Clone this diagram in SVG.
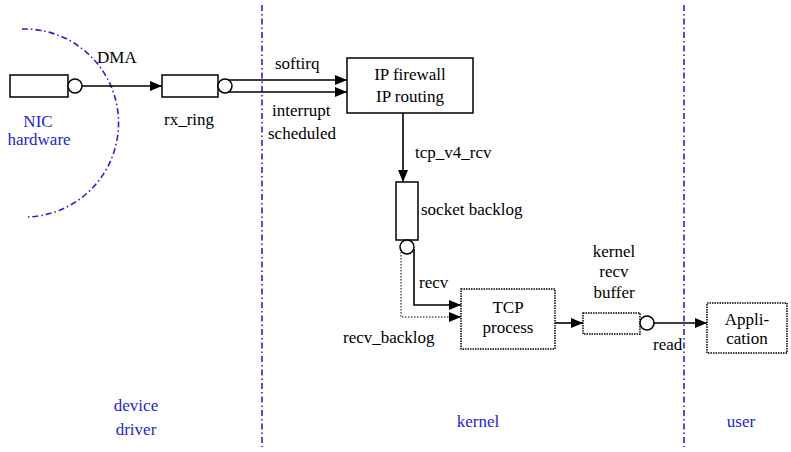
<svg xmlns="http://www.w3.org/2000/svg" width="791" height="452" viewBox="0 0 791 452" font-family="'Liberation Serif', 'DejaVu Serif', serif">
<defs>
<marker id="arr" markerUnits="userSpaceOnUse" markerWidth="12" markerHeight="10" refX="12" refY="5" orient="auto">
<path d="M0,0 L12,5 L0,10 z" fill="#000"/>
</marker>
<style>
text{font-family:"Liberation Serif","DejaVu Serif",serif;font-size:17px;fill:#000}
.blue{fill:#2424d0}
.mid{text-anchor:middle}
.box{fill:#fff;stroke:#000;stroke-width:1.5}
.dot{fill:#fff;stroke:#000;stroke-width:1.5;stroke-dasharray:1.5 1}
.q{fill:#fff;stroke:#000;stroke-width:1.5}
.conn{fill:none;stroke:#000;stroke-width:1.6}
.dotted{fill:none;stroke:#000;stroke-width:1;stroke-dasharray:1.5 1.5}
.region{fill:none;stroke:#2424d0;stroke-width:1.6;stroke-dasharray:6 3 1.5 3}
</style>
</defs>
<rect width="791" height="452" fill="#fff"/>
<g id="regions">
<path class="region" d="M22 29 A94 94 0 0 1 27 217"/>
<line class="region" x1="262" y1="5" x2="262" y2="447"/>
<line class="region" x1="684" y1="5" x2="684" y2="447"/>
<text class="blue mid" x="136" y="411">device</text>
<text class="blue mid" x="136" y="435">driver</text>
<text class="blue mid" x="478" y="427">kernel</text>
<text class="blue mid" x="741" y="427">user</text>
</g>
<g id="connectors">
<line class="conn" x1="82" y1="86" x2="162" y2="86" marker-end="url(#arr)"/>
<line class="conn" x1="228.6" y1="80" x2="347" y2="80" marker-end="url(#arr)"/>
<line class="conn" x1="228.6" y1="92" x2="347" y2="92" marker-end="url(#arr)"/>
<line class="conn" x1="403" y1="113" x2="403" y2="182" marker-end="url(#arr)"/>
<path class="conn" d="M414 249 V305 H461" marker-end="url(#arr)"/>
<path class="dotted" d="M401 252 V317 H461" marker-end="url(#arr)"/>
<line class="conn" x1="555" y1="323" x2="583" y2="323" marker-end="url(#arr)"/>
<line class="conn" x1="654" y1="323" x2="707" y2="323" marker-end="url(#arr)"/>
<text x="97" y="63">DMA</text>
<text x="275" y="69">softirq</text>
<text x="272" y="116">interrupt</text>
<text x="268" y="139">scheduled</text>
<text x="415" y="158">tcp_v4_rcv</text>
<text x="419" y="288">recv</text>
<text x="343" y="343">recv_backlog</text>
<text x="653" y="350">read</text>
</g>
<g id="nic">
<rect class="box" x="10" y="75" width="58" height="22"/>
<circle class="q" cx="75" cy="86" r="7"/>
<text class="blue mid" x="38" y="127">NIC</text>
<text class="blue mid" x="39" y="145">hardware</text>
</g>
<g id="rx_ring">
<rect class="box" x="162" y="75" width="56" height="22"/>
<circle class="q" cx="225" cy="86" r="7"/>
<text class="mid" x="189" y="125">rx_ring</text>
</g>
<g id="ip">
<rect class="box" x="347" y="58" width="126" height="55"/>
<text class="mid" x="410" y="80">IP firewall</text>
<text class="mid" x="410" y="102">IP routing</text>
</g>
<g id="socket_backlog">
<rect class="box" x="396" y="182" width="22" height="58"/>
<circle class="q" cx="407" cy="247" r="7"/>
<text x="421" y="215">socket backlog</text>
</g>
<g id="tcp">
<rect class="dot" x="461" y="289" width="94" height="60"/>
<text class="mid" x="508" y="313">TCP</text>
<text class="mid" x="508" y="333">process</text>
</g>
<g id="recv_buffer">
<rect class="dot" x="583" y="313" width="57" height="21"/>
<circle class="q" cx="647" cy="323" r="7"/>
<text class="mid" x="614" y="257">kernel</text>
<text class="mid" x="614" y="277">recv</text>
<text class="mid" x="614" y="298">buffer</text>
</g>
<g id="application">
<rect class="dot" x="707" y="303" width="80" height="50"/>
<text class="mid" x="747" y="325">Appli-</text>
<text class="mid" x="747" y="344">cation</text>
</g>
</svg>
